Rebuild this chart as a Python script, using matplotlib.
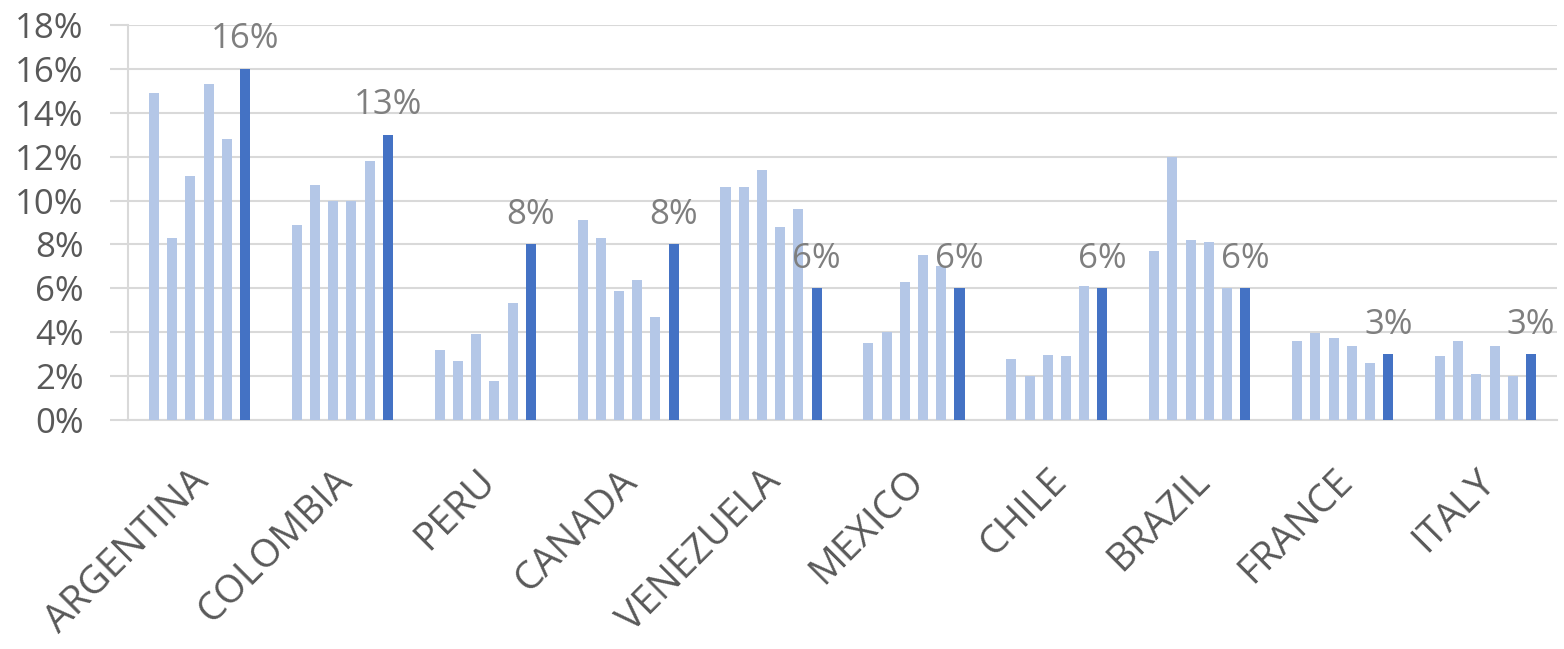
import matplotlib
matplotlib.use("Agg")
import matplotlib.pyplot as plt
import matplotlib.transforms as mtransforms
import numpy as np

countries = ["ARGENTINA", "COLOMBIA", "PERU", "CANADA", "VENEZUELA",
             "MEXICO", "CHILE", "BRAZIL", "FRANCE", "ITALY"]
# five earlier periods (light bars) and latest period (dark bar), in %
s1 = [14.9, 8.9, 3.2, 9.1, 10.6, 3.5, 2.8, 7.7, 3.6, 2.9]
s2 = [8.3, 10.7, 2.7, 8.3, 10.6, 4.0, 2.0, 12.0, 3.95, 3.6]
s3 = [11.1, 10.0, 3.9, 5.9, 11.4, 6.3, 2.95, 8.2, 3.75, 2.1]
s4 = [15.3, 10.0, 1.8, 6.4, 8.8, 7.5, 2.9, 8.1, 3.35, 3.35]
s5 = [12.8, 11.8, 5.35, 4.7, 9.6, 7.0, 6.1, 6.0, 2.6, 2.0]
latest = [16, 13, 8, 8, 6, 6, 6, 6, 3, 3]
yticks = [0, 2, 4, 6, 8, 10, 12, 14, 16, 18]

LIGHT = "#B4C7E7"
DARK = "#4472C4"
GRID = "#D9D9D9"
TXT = "#595959"
LBL = "#7F7F7F"
FONT = "Open Sans"

fig = plt.figure(figsize=(15.64, 6.49), dpi=100)
ax = fig.add_axes([128/1564, 1-420/649, (1557-128)/1564, (420-25)/649])

x = np.arange(len(countries))
step = 0.1275
width = 0.07
light_series = [s1, s2, s3, s4, s5]
for k, s in enumerate(light_series):
    ax.bar(x + (k - 2.5) * step, s, width=width, color=LIGHT, zorder=3)
ax.bar(x + 2.5 * step, latest, width=width, color=DARK, zorder=3)
for xi, v in zip(x + 2.5 * step, latest):
    ax.annotate(f"{v}%", (xi, v), xytext=(0, 9), textcoords="offset points",
                ha="center", va="bottom", fontsize=25, color=LBL, family=FONT, zorder=4)

ax.set_xlim(-0.5, len(countries) - 0.5)
ax.set_ylim(0, 18)
ax.set_yticks(yticks)
ax.set_yticklabels([f"{t}%" for t in yticks], fontsize=25, color=TXT, family=FONT)
ax.yaxis.grid(True, color=GRID, linewidth=1.5, zorder=0)
ax.tick_params(axis="y", length=13, width=1.5, color=GRID, pad=19)
ax.set_xticks(x)
ax.set_xticklabels(countries, fontsize=28, color=TXT, family=FONT,
                   rotation=45, ha="right", va="center", rotation_mode="anchor")
ax.tick_params(axis="x", length=0, pad=40)
offset = mtransforms.ScaledTranslation(4/100, 0, fig.dpi_scale_trans)
for lab in ax.get_xticklabels():
    lab.set_transform(lab.get_transform() + offset)

for side in ["top", "right"]:
    ax.spines[side].set_visible(False)
ax.spines["left"].set_color(GRID)
ax.spines["left"].set_linewidth(1.5)
ax.spines["bottom"].set_color(GRID)
ax.spines["bottom"].set_linewidth(1.5)
ax.set_axisbelow(True)

fig.savefig("out.png", dpi=100)
